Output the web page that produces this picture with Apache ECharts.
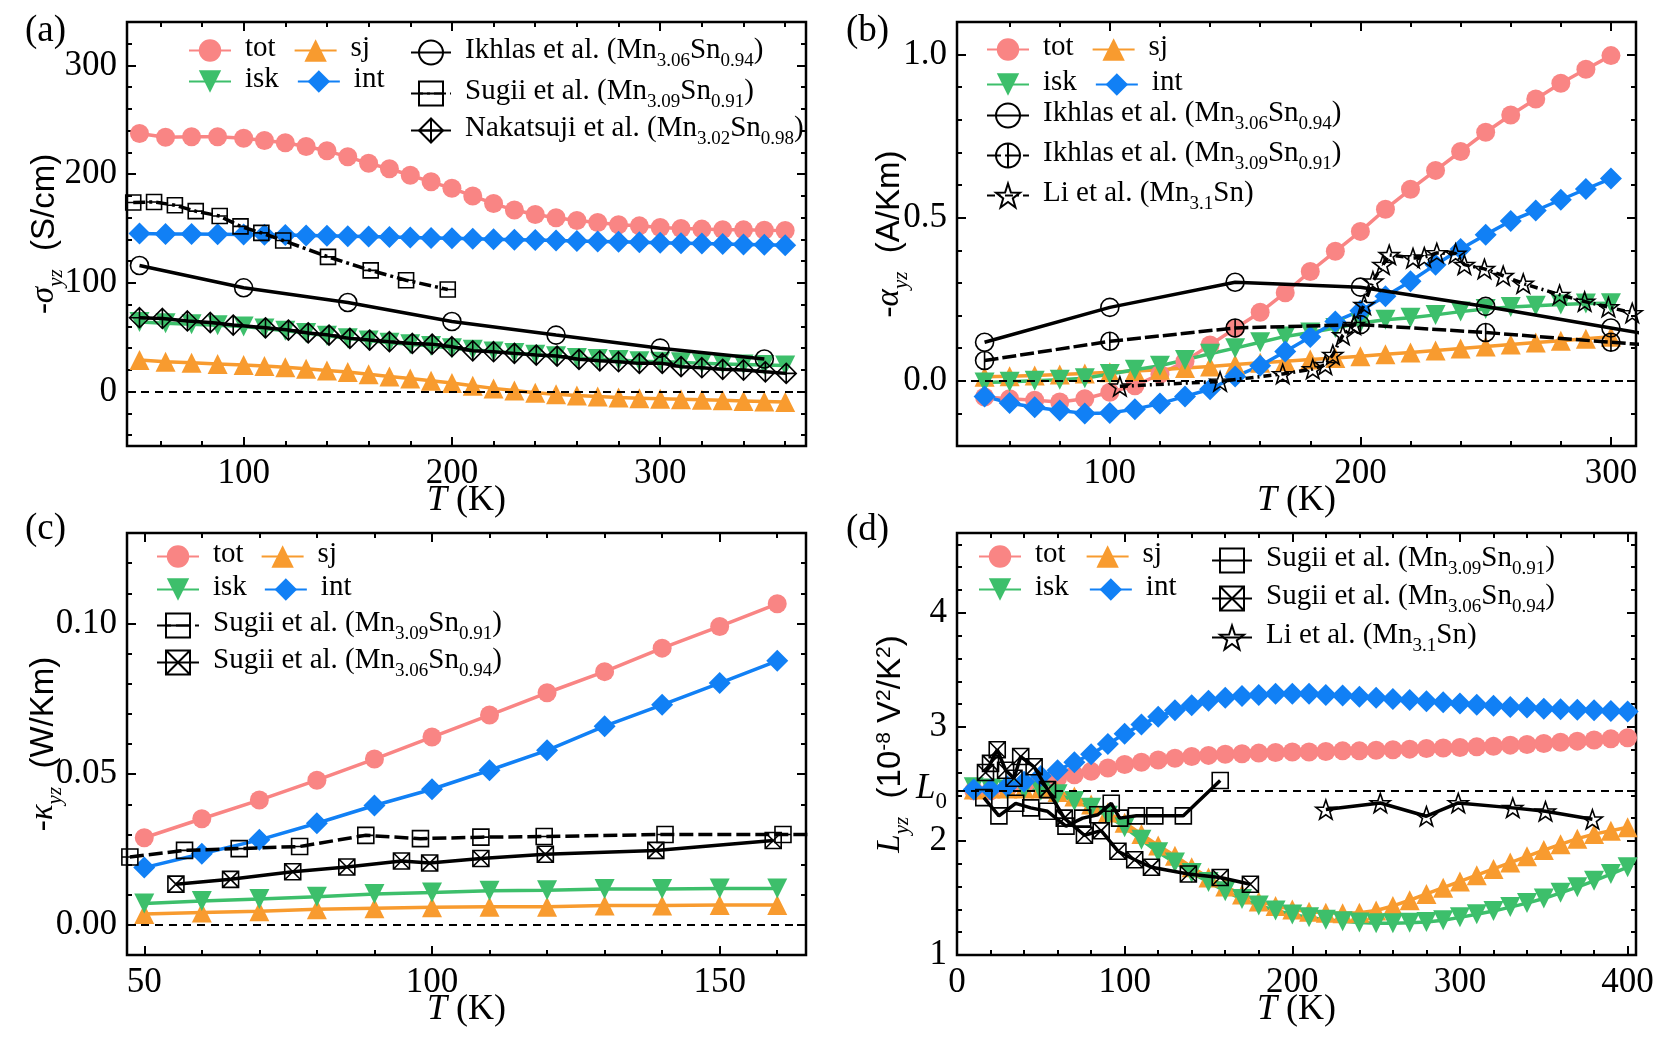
<!DOCTYPE html>
<html>
<head>
<meta charset="utf-8">
<script src="https://cdn.jsdelivr.net/npm/echarts@6.0.0/dist/echarts.min.js"></script>
<style>
  html, body { margin: 0; padding: 0; background: #fff; }
  #chart { width: 1661px; height: 1038px; }
</style>
</head>
<body>
<div id="chart"></div>
<script>
// ---- (a) anomalous Hall conductivity ----
const aTemp = [50,62.5,75,87.5,100,110,120,130,140,150,160,170,180,190,200,210,220,230,240,250,260,270,280,290,300,310,320,330,340,350,360];
const aTot = [237.5,234,234.5,234.5,233,231,229,225.5,221.5,216,210,205,199,193,187,180,173,167,163,160,157.5,155.5,153.5,152.5,151,150,149.5,149,148.8,148.5,148.3];
const aSj = [29,27.5,26.5,25.5,24.5,23.5,22.5,21,19.5,18,16,14,12,10,8,5.5,3,1,-1,-2.5,-3.5,-4.5,-5.5,-6,-6.5,-7,-7.5,-8,-8.5,-9,-9.5];
const aIsk = [64,63,62,61,60,58,56,54,51.5,49,47,45,43.5,42,40,38.5,37,35.5,34,32.5,31,30,29,28,27.5,27,26,25.5,25,24.5,24];
const aInt = [145.5,145,145,144.8,144.5,144.2,144,143.7,143.4,143,142.6,142.2,141.8,141.4,141,140.6,140.2,139.8,139.4,139,138.6,138.2,137.8,137.4,137,136.6,136.2,135.8,135.4,135,134.6];
const aIkhT = [50,100,150,200,250,300,350];
const aIkh = [116,95.5,82,64.5,52,40,30];
const aSugT = [47,57,67,77,88.5,98.5,108.5,119,140.5,161,178,198];
const aSug = [174,174.5,171.5,166,161.5,152,146,139,124,111.5,102.5,94];
const aNakT = [50,61,73,84,95,110.5,121.5,131,141,151,160.5,170,181,190.5,200,210,220,230,240.5,250.5,261,271,280,290,301,310,320,330,340,350.5,360.5];
const aNak = [68,67.3,65,63.6,61.2,58.7,56.6,54,52,49,47.4,45.9,44.3,43.7,41.3,37.6,36.7,35.2,33.6,32.7,29.7,28.4,27.5,26,26,23,22,20.5,19.9,18.3,16.8];

// ---- (b) anomalous Nernst conductivity ----
const bTemp = [50,60,70,80,90,100,110,120,130,140,150,160,170,180,190,200,210,220,230,240,250,260,270,280,290,300];
const bTot = [-0.05,-0.055,-0.06,-0.065,-0.055,-0.035,-0.015,0.02,0.06,0.11,0.16,0.21,0.27,0.335,0.397,0.458,0.526,0.587,0.645,0.703,0.762,0.815,0.864,0.912,0.955,0.997];
const bSj = [0.012,0.014,0.016,0.019,0.022,0.026,0.03,0.034,0.039,0.044,0.05,0.055,0.06,0.065,0.07,0.075,0.081,0.087,0.093,0.099,0.105,0.111,0.117,0.123,0.129,0.135];
const bIsk = [-0.005,-0.003,0,0.003,0.008,0.021,0.034,0.046,0.064,0.083,0.1,0.118,0.136,0.148,0.162,0.177,0.187,0.193,0.202,0.212,0.22,0.226,0.23,0.234,0.237,0.238];
const bInt = [-0.048,-0.068,-0.081,-0.091,-0.1,-0.099,-0.087,-0.07,-0.048,-0.026,0.013,0.046,0.09,0.134,0.182,0.215,0.259,0.305,0.356,0.404,0.448,0.49,0.522,0.555,0.588,0.62];
const bIkhT = [50,100,150,200,250,300,350];
const bIkh1 = [0.118,0.225,0.302,0.287,0.228,0.162,0.095];
const bIkh2 = [0.062,0.121,0.162,0.172,0.148,0.118,0.09];
const bLiT = [104,144,169,181,186,189,193,197.5,201.5,205,209,211.5,221,225.5,230.5,238,241.5,249.5,257,265,279.5,289.5,299,308.5];
const bLi = [-0.017,-0.002,0.021,0.036,0.049,0.08,0.14,0.172,0.233,0.305,0.356,0.386,0.376,0.379,0.392,0.39,0.356,0.343,0.322,0.298,0.264,0.243,0.226,0.208];

// ---- (c) thermal Hall conductivity ----
const cTemp = [50,60,70,80,90,100,110,120,130,140,150,160];
const cTot = [0.0289,0.0352,0.0414,0.048,0.055,0.0623,0.0696,0.077,0.084,0.0918,0.099,0.1065];
const cSj = [0.0036,0.0041,0.0045,0.0052,0.0055,0.0058,0.006,0.006,0.0064,0.0064,0.0066,0.0066];
const cIsk = [0.0071,0.0079,0.0086,0.0093,0.0102,0.0107,0.0113,0.0115,0.0119,0.0119,0.0121,0.0121];
const cInt = [0.019,0.0236,0.0282,0.0337,0.0396,0.045,0.0513,0.0579,0.0659,0.073,0.0802,0.0876];
const cSug1T = [47.5,57,66.5,77,88.5,98,108.5,119.5,140.5,161,180];
const cSug1 = [0.0225,0.0247,0.0253,0.026,0.0297,0.0286,0.0291,0.0293,0.03,0.03,0.03];
const cSug2T = [55.5,65,75.8,85.2,94.7,99.6,108.5,119.7,138.9,159.3];
const cSug2 = [0.0135,0.0151,0.0176,0.0192,0.0212,0.0205,0.022,0.0234,0.0247,0.028];

// ---- (d) Lorenz ratio ----
const dTemp = [10,20,30,40,50,60,70,80,90,100,110,120,130,140,150,160,170,180,190,200,210,220,230,240,250,260,270,280,290,300,310,320,330,340,350,360,370,380,390,400];
const dTot = [2.44,2.44,2.46,2.49,2.52,2.55,2.58,2.61,2.64,2.67,2.69,2.71,2.725,2.74,2.75,2.76,2.765,2.77,2.775,2.78,2.78,2.785,2.79,2.79,2.795,2.8,2.805,2.81,2.815,2.82,2.825,2.83,2.84,2.845,2.855,2.865,2.875,2.885,2.895,2.905];
const dSj = [2.45,2.46,2.46,2.46,2.46,2.43,2.39,2.32,2.25,2.16,2.06,1.96,1.87,1.77,1.68,1.6,1.53,1.47,1.43,1.4,1.38,1.37,1.365,1.37,1.39,1.43,1.48,1.535,1.59,1.645,1.7,1.755,1.81,1.865,1.92,1.97,2.02,2.06,2.09,2.12];
const dIsk = [2.47,2.46,2.45,2.45,2.44,2.41,2.35,2.29,2.22,2.12,2.01,1.9,1.81,1.72,1.64,1.56,1.49,1.435,1.39,1.355,1.33,1.31,1.295,1.285,1.278,1.278,1.282,1.29,1.304,1.33,1.357,1.385,1.42,1.455,1.495,1.545,1.595,1.65,1.71,1.77];
const dInt = [2.45,2.45,2.48,2.52,2.57,2.62,2.69,2.76,2.85,2.94,3.02,3.09,3.145,3.19,3.23,3.255,3.27,3.28,3.29,3.29,3.29,3.28,3.275,3.265,3.255,3.245,3.235,3.225,3.215,3.205,3.195,3.185,3.175,3.17,3.16,3.155,3.15,3.145,3.14,3.135];
const dSug1T = [16,25,35,44,54,65,75,84,92,97,107,118,135,157];
const dSug1 = [2.38,2.22,2.33,2.29,2.26,2.13,2.2,2.23,2.33,2.2,2.22,2.22,2.22,2.53];
const dSug2T = [17,20,24,29,34,38,46,54,64,76,86,96,106,116,138,157,175];
const dSug2 = [2.6,2.68,2.8,2.62,2.55,2.74,2.65,2.45,2.2,2.05,2.09,1.91,1.835,1.77,1.71,1.68,1.62];
const dLiT = [220,252.5,280,299,331.5,351,379];
const dLi = [2.275,2.333,2.217,2.333,2.29,2.26,2.19];
const L0 = 2.44;

// ---- ticks ----
const aXMajor = [100,200,300], aXMinor = [60,80,120,140,160,180,220,240,260,280,320,340,360];
const aYMajor = [0,100,200,300], aYMinor = [-40,-20,20,40,60,80,120,140,160,180,220,240,260,280,320];
const bXMajor = [100,200,300], bXMinor = [60,80,120,140,160,180,220,240,260,280];
const bYMajor = [0,0.5,1.0], bYMinor = [-0.1,0.1,0.2,0.3,0.4,0.6,0.7,0.8,0.9];
const cXMajor = [50,100,150], cXMinor = [60,70,80,90,110,120,130,140,160];
const cYMajor = [0,0.05,0.1], cYMinor = [0.01,0.02,0.03,0.04,0.06,0.07,0.08,0.09,0.11,0.12];
const dXMajor = [0,100,200,300,400], dXMinor = [20,40,60,80,120,140,160,180,220,240,260,280,320,340,360,380];
const dYMajor = [1,2,3,4], dYMinor = [1.2,1.4,1.6,1.8,2.2,2.4,2.6,2.8,3.2,3.4,3.6,3.8,4.2,4.4,4.6];
const dYLabels = [1,2,L0,3,4];

const SERIF = 'Liberation Serif', SANS = 'Liberation Sans';
const PINK = '#F98584', ORANGE = '#F89B2F', GREEN = '#3DBF6B', BLUE = '#1180F5';
const PANEL = ['a', 'b', 'c', 'd'];

const LABELS = {
  tot: 'tot', sj: 'sj', isk: 'isk', int: 'int',
  'a-ikh': 'Ikhlas et al. (Mn_{3.06}Sn_{0.94})',
  'a-sug': 'Sugii et al. (Mn_{3.09}Sn_{0.91})',
  'a-nak': 'Nakatsuji et al. (Mn_{3.02}Sn_{0.98})',
  'b-ikh1': 'Ikhlas et al. (Mn_{3.06}Sn_{0.94})',
  'b-ikh2': 'Ikhlas et al. (Mn_{3.09}Sn_{0.91})',
  'b-li': 'Li et al. (Mn_{3.1}Sn)',
  'c-sug1': 'Sugii et al. (Mn_{3.09}Sn_{0.91})',
  'c-sug2': 'Sugii et al. (Mn_{3.06}Sn_{0.94})',
  'd-sug1': 'Sugii et al. (Mn_{3.09}Sn_{0.91})',
  'd-sug2': 'Sugii et al. (Mn_{3.06}Sn_{0.94})',
  'd-li': 'Li et al. (Mn_{3.1}Sn)'
};

// rich text styles: n normal, i italic, u sans, s/si subscript, p superscript
function richSet(fs) {
  const sub = Math.round(fs * 0.65), lh = fs + 4, down = Math.round(fs * 0.55);
  return {
    n: {fontFamily: SERIF, fontSize: fs, lineHeight: lh, verticalAlign: 'top', color: '#000'},
    i: {fontFamily: SERIF, fontStyle: 'italic', fontSize: fs, lineHeight: lh, verticalAlign: 'top', color: '#000'},
    u: {fontFamily: SANS, fontSize: fs, lineHeight: lh, verticalAlign: 'top', color: '#000'},
    s: {fontFamily: SERIF, fontSize: sub, lineHeight: sub, padding: [down, 0, 0, 0], verticalAlign: 'top', color: '#000'},
    si: {fontFamily: SERIF, fontStyle: 'italic', fontSize: sub, lineHeight: sub, padding: [down, 0, 0, 0], verticalAlign: 'top', color: '#000'},
    p: {fontFamily: SANS, fontSize: sub, lineHeight: sub, verticalAlign: 'top', color: '#000'},
    sp: {width: 9}
  };
}

function toRich(str) {
  return str.split(/(_\{[^}]*\})/).filter(Boolean).map(function (p) {
    return p.startsWith('_{') ? '{s|' + p.slice(2, -1) + '}' : '{n|' + p + '}';
  }).join('');
}

const SYM = {
  sqLine: 'path://M0,0L10,0L10,10L0,10ZM0,5L10,5',
  sqCross: 'path://M0,0L10,0L10,10L0,10ZM0,0L10,10M10,0L0,10',
  diaPlus: 'path://M5,0L10,5L5,10L0,5ZM5,0L5,10M0,5L10,5',
  circBar: 'path://M10,5A5,5,0,1,1,0,5A5,5,0,1,1,10,5ZM5,0L5,10',
  star: 'path://M10,0L12.3,6.8L19.5,6.9L13.8,11.2L15.9,18.1L10,14L4.1,18.1L6.2,11.2L0.5,6.9L7.7,6.8Z'
};

const STY = {
  tot: {symbol: 'circle', size: 19, color: PINK, rot: 0},
  sj: {symbol: 'triangle', size: 20, color: ORANGE, rot: 0},
  isk: {symbol: 'triangle', size: 20, color: GREEN, rot: 180},
  int: {symbol: 'diamond', size: 22, color: BLUE, rot: 0}
};

function pairs(xs, ys) { return xs.map(function (x, i) { return [x, ys[i]]; }); }

function calc(p, key, xs, ys, zeroAt) {
  const s = STY[key];
  const ser = {
    type: 'line', name: PANEL[p] + '-' + key, xAxisIndex: p * 4, yAxisIndex: p * 4,
    data: pairs(xs, ys), symbol: s.symbol, symbolSize: s.size, symbolRotate: s.rot,
    itemStyle: {color: s.color}, lineStyle: {color: s.color, width: 3.5},
    clip: true, z: 3, emphasis: {disabled: true}
  };
  if (zeroAt !== undefined) {
    ser.markLine = {silent: true, symbol: 'none', label: {show: false}, animation: false,
      lineStyle: {color: '#000', type: [8, 6], width: 2}, data: [{yAxis: zeroAt}]};
  }
  return ser;
}

function ref(p, key, xs, ys, sym, size, dash) {
  return {
    type: 'line', name: key, xAxisIndex: p * 4, yAxisIndex: p * 4,
    data: pairs(xs, ys), symbol: sym, symbolSize: size, symbolKeepAspect: true,
    itemStyle: {color: 'rgba(255,255,255,0)', borderColor: '#000', borderWidth: 1.6},
    lineStyle: {color: '#000', width: 3.5, type: dash || 'solid'},
    clip: true, z: 5, emphasis: {disabled: true}
  };
}

function axisSet(dim, g, min, max, major, minor, labelVals, fmt, name, nameGap) {
  const pos = dim === 'x' ? ['bottom', 'top'] : ['left', 'right'];
  const base = {type: 'value', gridIndex: g, min: min, max: max, splitLine: {show: false},
    axisLine: {show: false, onZero: false}};
  const tick = function (vals, len) {
    return {show: true, inside: true, length: len, customValues: vals, lineStyle: {color: '#000', width: 2}};
  };
  const off = {show: false};
  return [
    Object.assign({}, base, {
      position: pos[0], axisTick: tick(major, 9),
      axisLabel: {show: true, customValues: labelVals, formatter: fmt, margin: 10, color: '#000',
        fontFamily: SERIF, fontSize: 35, rich: richSet(35)},
      name: name, nameLocation: 'middle', nameGap: nameGap, nameRotate: dim === 'y' ? 90 : 0,
      nameMoveOverlap: false,
      nameTextStyle: {color: '#000', rich: richSet(dim === 'x' ? 36 : 33)}
    }),
    Object.assign({}, base, {position: pos[0], axisTick: tick(minor, 5), axisLabel: off}),
    Object.assign({}, base, {position: pos[1], axisTick: tick(major, 9), axisLabel: off}),
    Object.assign({}, base, {position: pos[1], axisTick: tick(minor, 5), axisLabel: off})
  ];
}

const legRich = richSet(29);
function leg(names, left, top, gap, iw, ih) {
  return {
    data: names, left: left, top: top, orient: 'horizontal', padding: 0, itemGap: gap,
    itemWidth: iw, itemHeight: ih, selectedMode: false,
    formatter: function (n) { return '{sp| }' + toRich(LABELS[n.replace(/^[a-d]-(tot|sj|isk|int)$/, '$1')]); },
    textStyle: {color: '#000', fontFamily: SERIF, fontSize: 29, rich: legRich}
  };
}

const TK = '{i|T}{n| (K)}';
const fInt = function (v) { return String(v); };
const f1 = function (v) { return v.toFixed(1); };
const f2 = function (v) { return v.toFixed(2); };
const fD = function (v) { return v === L0 ? '{i|L}{s|0}' : String(v); };

const xAxes = [].concat(
  axisSet('x', 0, 44, 370, aXMajor, aXMinor, aXMajor, fInt, TK, 37),
  axisSet('x', 1, 39, 310, bXMajor, bXMinor, bXMajor, fInt, TK, 37),
  axisSet('x', 2, 47, 165, cXMajor, cXMinor, cXMajor, fInt, TK, 37),
  axisSet('x', 3, 0, 405, dXMajor, dXMinor, dXMajor, fInt, TK, 37)
);
const yAxes = [].concat(
  axisSet('y', 0, -50, 340, aYMajor, aYMinor, aYMajor, fInt, '{n|-}{i|σ}{si|yz}{u|  (S/cm)}', 62),
  axisSet('y', 1, -0.2, 1.1, bYMajor, bYMinor, bYMajor, f1, '{n|-}{i|α}{si|yz}{u|  (A/Km)}', 47),
  axisSet('y', 2, -0.01, 0.13, cYMajor, cYMinor, cYMajor, f2, '{n|-}{i|κ}{si|yz}{u|  (W/Km)}', 63),
  axisSet('y', 3, 1, 4.7, dYMajor.concat([L0]), dYMinor, dYLabels, fD,
    '{i|L}{si|yz}{u|  (10}{p|-8}{u| V}{p|2}{u|/K}{p|2}{u|)}', 46)
);

const grids = [
  {left: 127, top: 22, width: 679, height: 424},
  {left: 957, top: 22, width: 679, height: 424},
  {left: 127, top: 533, width: 679, height: 422},
  {left: 957, top: 533, width: 679, height: 422}
].map(function (g) {
  return Object.assign(g, {show: true, borderColor: '#000', borderWidth: 2.5,
    backgroundColor: 'rgba(0,0,0,0)', containLabel: false, outerBoundsMode: 'none'});
});

const series = [
  calc(0, 'tot', aTemp, aTot, 0), calc(0, 'sj', aTemp, aSj), calc(0, 'isk', aTemp, aIsk), calc(0, 'int', aTemp, aInt),
  ref(0, 'a-ikh', aIkhT, aIkh, 'circle', 18),
  ref(0, 'a-sug', aSugT, aSug, SYM.sqLine, 15, [12, 4, 3, 4]),
  ref(0, 'a-nak', aNakT, aNak, SYM.diaPlus, 20),

  calc(1, 'tot', bTemp, bTot, 0), calc(1, 'sj', bTemp, bSj), calc(1, 'isk', bTemp, bIsk), calc(1, 'int', bTemp, bInt),
  ref(1, 'b-ikh1', bIkhT, bIkh1, 'circle', 18),
  ref(1, 'b-ikh2', bIkhT, bIkh2, SYM.circBar, 18, [14, 4]),
  ref(1, 'b-li', bLiT, bLi, SYM.star, 20, [8, 4, 2, 4]),

  calc(2, 'tot', cTemp, cTot, 0), calc(2, 'sj', cTemp, cSj), calc(2, 'isk', cTemp, cIsk), calc(2, 'int', cTemp, cInt),
  ref(2, 'c-sug1', cSug1T, cSug1, SYM.sqLine, 16, [14, 5]),
  ref(2, 'c-sug2', cSug2T, cSug2, SYM.sqCross, 16),

  calc(3, 'tot', dTemp, dTot, L0), calc(3, 'sj', dTemp, dSj), calc(3, 'isk', dTemp, dIsk), calc(3, 'int', dTemp, dInt),
  ref(3, 'd-sug1', dSug1T, dSug1, 'rect', 16),
  ref(3, 'd-sug2', dSug2T, dSug2, SYM.sqCross, 16),
  ref(3, 'd-li', dLiT, dLi, SYM.star, 20)
];

const legends = [
  leg(['a-tot', 'a-sj'], 188, 34, 18, 42, 28), leg(['a-isk', 'a-int'], 188, 65, 18, 42, 28),
  leg(['a-ikh'], 410, 36, 10, 40, 30), leg(['a-sug'], 410, 77, 10, 40, 30), leg(['a-nak'], 410, 114, 10, 40, 30),

  leg(['b-tot', 'b-sj'], 986, 33, 18, 42, 28), leg(['b-isk', 'b-int'], 986, 68, 18, 42, 28),
  leg(['b-ikh1'], 986, 99, 10, 42, 30), leg(['b-ikh2'], 986, 139, 10, 42, 30), leg(['b-li'], 986, 179, 10, 42, 30),

  leg(['c-tot', 'c-sj'], 156, 540, 17, 42, 28), leg(['c-isk', 'c-int'], 156, 573, 17, 42, 28),
  leg(['c-sug1'], 156, 609, 10, 42, 30), leg(['c-sug2'], 156, 646, 10, 42, 30),

  leg(['d-tot', 'd-sj'], 978, 540, 20, 42, 28), leg(['d-isk', 'd-int'], 978, 573, 20, 42, 28),
  leg(['d-sug1'], 1211, 544, 10, 40, 30), leg(['d-sug2'], 1211, 582, 10, 40, 30), leg(['d-li'], 1211, 621, 10, 40, 30)
];

const titleStyle = {fontFamily: SERIF, fontSize: 37, fontWeight: 'normal', color: '#000'};
const titles = [
  {text: '(a)', left: 25, top: 13}, {text: '(b)', left: 846, top: 13},
  {text: '(c)', left: 25, top: 511}, {text: '(d)', left: 846, top: 512}
].map(function (t) { return Object.assign(t, {padding: 0, textStyle: titleStyle}); });

const chart = echarts.init(document.getElementById('chart'));
chart.setOption({
  animation: false,
  backgroundColor: '#fff',
  textStyle: {fontFamily: SERIF},
  title: titles,
  grid: grids,
  xAxis: xAxes,
  yAxis: yAxes,
  legend: legends,
  series: series
});
</script>
</body>
</html>
